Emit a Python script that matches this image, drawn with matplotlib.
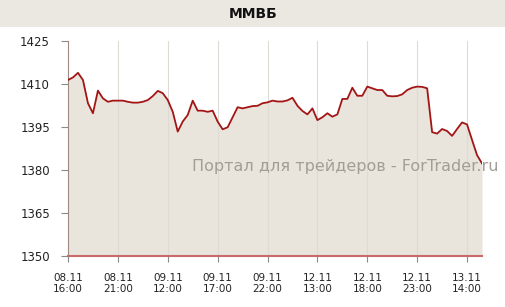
import matplotlib
matplotlib.use("Agg")
import matplotlib.pyplot as plt
from matplotlib.patches import Rectangle
import numpy as np

# MMVB index, half-hour points
values = [
    1411.4, 1412.3, 1413.9, 1411.4, 1403.3, 1399.8, 1407.7, 1405.0, 1403.8, 1404.2,
    1404.2, 1404.2, 1403.8, 1403.5, 1403.5, 1403.8, 1404.4, 1405.8, 1407.6, 1406.8,
    1404.4, 1400.3, 1393.4, 1396.9, 1399.2, 1404.2, 1400.7, 1400.7, 1400.3, 1400.7,
    1396.9, 1394.2, 1394.9, 1398.4, 1401.9, 1401.5, 1401.9, 1402.3, 1402.4, 1403.3,
    1403.6, 1404.2, 1403.9, 1403.9, 1404.3, 1405.2, 1402.4, 1400.6, 1399.4, 1401.5,
    1397.4, 1398.4, 1399.8, 1398.6, 1399.4, 1404.8, 1404.8, 1408.7, 1405.9, 1405.9,
    1409.1, 1408.5, 1407.9, 1407.9, 1405.9, 1405.7, 1405.8, 1406.4, 1407.9, 1408.7,
    1409.1, 1409.0, 1408.5, 1393.2, 1392.7, 1394.3, 1393.6, 1391.9, 1394.3, 1396.6,
    1395.9, 1390.5, 1385.2, 1382.3,
]
tick_labels = ["08.11\n16:00", "08.11\n21:00", "09.11\n12:00", "09.11\n17:00",
               "09.11\n22:00", "12.11\n13:00", "12.11\n18:00", "12.11\n23:00",
               "13.11\n14:00"]
y_ticks = [1350, 1365, 1380, 1395, 1410, 1425]
title = "ММВБ"

x = np.arange(len(values))

fig = plt.figure(figsize=(5.06, 3.07), dpi=100)
fig.patch.set_facecolor("white")

# title band
fig.patches.append(Rectangle((0, 0.912), 1, 0.088, transform=fig.transFigure,
                             facecolor="#ebe8e1", edgecolor="none", zorder=0))
fig.text(0.5, 0.956, title, ha="center", va="center", fontsize=10,
         fontweight="bold", color="#111111")

ax = fig.add_axes((0.1344, 0.1661, 0.8182, 0.7003))
ax.set_facecolor("white")

ax.fill_between(x, 1350, values, color="#e9e5dc", zorder=1, linewidth=0)
ax.plot(x, values, color="#a31515", linewidth=1.3, zorder=3)

ax.set_xlim(0, len(values) - 1)
ax.set_ylim(1350, 1425)
ax.set_yticks(y_ticks)
ax.set_xticks(np.arange(0, len(values), 10))
ax.set_xticklabels(tick_labels)

for xt in np.arange(10, len(values), 10):
    ax.axvline(xt, color="#dedbd5", linewidth=0.8, zorder=2)

for s in ["top", "right"]:
    ax.spines[s].set_visible(False)
ax.spines["left"].set_color("#9e8a80")
ax.spines["bottom"].set_color("#c96b6b")
ax.spines["bottom"].set_linewidth(1.5)
ax.spines["bottom"].set_zorder(4)

ax.tick_params(axis="y", direction="out", length=5, color="#8a8a8a",
               labelsize=8.5, labelcolor="#222222", pad=8)
ax.tick_params(axis="x", direction="out", length=4, color="#8a8a8a",
               labelsize=7.5, labelcolor="#222222", pad=8)

ax.text(0.67, 0.415, "Портал для трейдеров - ForTrader.ru", transform=ax.transAxes,
        ha="center", va="center", fontsize=11.5, color="#a39d95", zorder=5)

fig.savefig("out.png", dpi=100)
